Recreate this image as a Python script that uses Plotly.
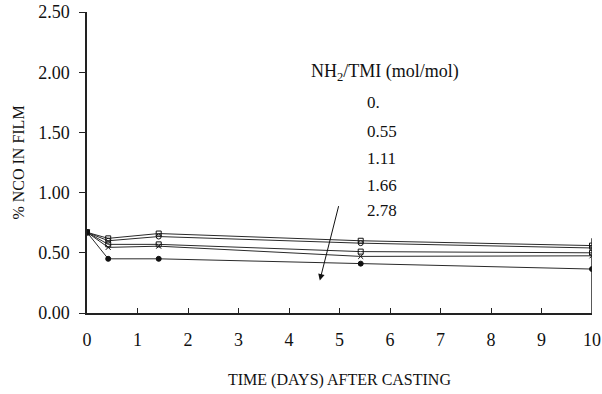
import plotly.graph_objects as go

# Sampling times (days after casting)
days = [0, 0.42, 1.42, 5.42, 10]

# NH2/TMI ratios (mol/mol) and % NCO remaining in the film
ratio_labels = ["0.", "0.55", "1.11", "1.66", "2.78"]
nco_0 = [0.67, 0.62, 0.66, 0.60, 0.56]
nco_055 = [0.67, 0.60, 0.635, 0.58, 0.54]
nco_111 = [0.67, 0.57, 0.57, 0.51, 0.50]
nco_166 = [0.67, 0.545, 0.555, 0.47, 0.475]
nco_278 = [0.67, 0.45, 0.45, 0.41, 0.365]
series = [nco_0, nco_055, nco_111, nco_166, nco_278]
symbols = ["square-open", "circle-open", "square-open", "x-thin-open", "circle"]

y_ticks = [0.0, 0.5, 1.0, 1.5, 2.0, 2.5]
x_ticks = list(range(0, 11))

FONT = "Liberation Serif, Times New Roman, serif"

fig = go.Figure()
for vals, sym, name in zip(series, symbols, ratio_labels):
    fig.add_trace(go.Scatter(
        x=days, y=vals, mode="lines+markers", name=name,
        line=dict(color="#2a2a2a", width=1),
        marker=dict(symbol=sym, size=5, color="#111111",
                    line=dict(color="#111111", width=1)),
        showlegend=False,
    ))

# Right-hand frame segment at day 10
fig.add_shape(type="line", xref="x", yref="y", x0=10, x1=10, y0=0, y1=0.62,
              line=dict(color="#222222", width=1.5))

# Legend block as text
fig.add_annotation(x=0.59, y=2.0, xref="x domain", yref="y",
                   text="NH<sub>2</sub>/TMI (mol/mol)", showarrow=False,
                   xanchor="center", yanchor="middle",
                   font=dict(family=FONT, size=18, color="#111111"))
label_y = [1.75, 1.51, 1.28, 1.055, 0.85]
for lbl, ly in zip(ratio_labels, label_y):
    fig.add_annotation(x=5.5, y=ly, xref="x", yref="y", text=lbl,
                       showarrow=False, xanchor="left", yanchor="middle",
                       font=dict(family=FONT, size=17, color="#111111"))

# Arrow indicating increasing amine ratio
fig.add_annotation(x=4.61, y=0.27, ax=4.99, ay=0.90, xref="x", yref="y",
                   axref="x", ayref="y", text="", showarrow=True,
                   arrowhead=2, arrowsize=1.3, arrowwidth=1, arrowcolor="#111111")

fig.update_layout(
    width=602, height=394,
    margin=dict(l=87, r=10, t=12, b=81, autoexpand=False),
    paper_bgcolor="white", plot_bgcolor="white",
    font=dict(family=FONT, size=17, color="#111111"),
)
fig.update_xaxes(
    range=[0, 10], tickvals=x_ticks, ticktext=[str(t) for t in x_ticks],
    ticks="inside", ticklen=5, tickcolor="#222222",
    showline=True, linecolor="#222222", linewidth=1.5,
    showgrid=False, zeroline=False, ticklabelstandoff=10,
    tickfont=dict(family=FONT, size=18),
    title=dict(text="TIME (DAYS) AFTER CASTING", standoff=24,
               font=dict(family=FONT, size=16)),
)
fig.update_yaxes(
    range=[0, 2.5], tickvals=y_ticks, ticktext=[f"{v:.2f}" for v in y_ticks],
    ticks="outside", ticklen=6, tickcolor="#222222",
    showline=True, linecolor="#222222", linewidth=1.5,
    showgrid=False, zeroline=False, ticklabelstandoff=6,
    tickfont=dict(family=FONT, size=18),
    title=dict(text="% NCO IN FILM", standoff=10,
               font=dict(family=FONT, size=16)),
)

fig.write_html("out.html")
